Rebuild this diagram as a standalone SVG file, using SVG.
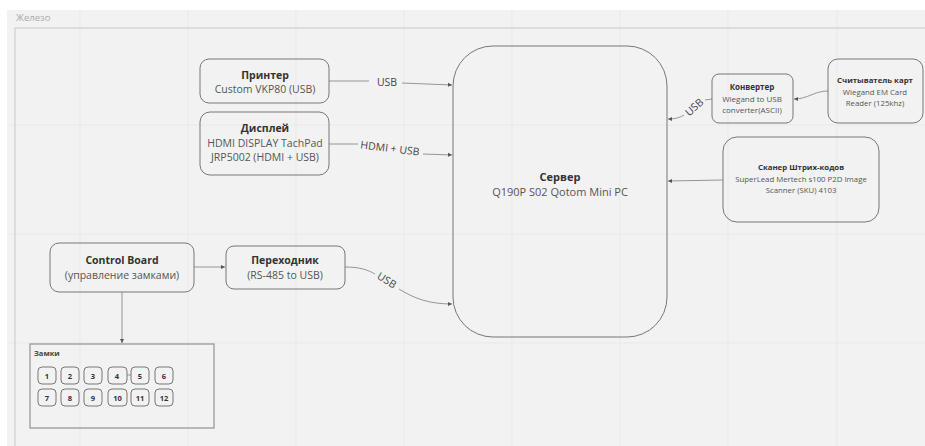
<svg xmlns="http://www.w3.org/2000/svg" width="925" height="446" viewBox="0 0 925 446">
<defs>
<marker id="arr" markerUnits="userSpaceOnUse" markerWidth="5" markerHeight="5" refX="4" refY="2.5" orient="auto">
<path d="M0,0.5 L4,2.5 L0,4.5 z" fill="#555"/>
</marker>
<style>
.node{fill:none;stroke:#777;stroke-width:1}
.t{font-family:"Open Sans","Liberation Sans",sans-serif;font-weight:700;fill:#333;text-anchor:middle}
.s{font-family:"Open Sans","Liberation Sans",sans-serif;fill:#555;text-anchor:middle}
.c{fill:none;stroke:#8a8a8a;stroke-width:0.9}
.lbl{font-family:"Open Sans","Liberation Sans",sans-serif;fill:#444;font-size:10.5px;text-anchor:middle}
.lock{fill:none;stroke:#777;stroke-width:1}
.ln{font-family:"Open Sans","Liberation Sans",sans-serif;font-weight:700;fill:#333;font-size:7.5px;text-anchor:middle}
.grid{stroke:#e9e9e9;stroke-width:1}
</style>
</defs>
<rect x="0" y="0" width="925" height="446" fill="#ffffff"/>
<rect x="7" y="10" width="918" height="436" fill="#f2f2f2"/>
<g id="grid">
<line class="grid" x1="80" y1="10" x2="80" y2="446"/>
<line class="grid" x1="188" y1="10" x2="188" y2="446"/>
<line class="grid" x1="296" y1="10" x2="296" y2="446"/>
<line class="grid" x1="404" y1="10" x2="404" y2="446"/>
<line class="grid" x1="512" y1="10" x2="512" y2="446"/>
<line class="grid" x1="620" y1="10" x2="620" y2="446"/>
<line class="grid" x1="728" y1="10" x2="728" y2="446"/>
<line class="grid" x1="837" y1="10" x2="837" y2="446"/>
<line class="grid" x1="7" y1="125" x2="925" y2="125"/>
<line class="grid" x1="7" y1="234" x2="925" y2="234"/>
<line class="grid" x1="7" y1="343" x2="925" y2="343"/>
</g>
<g id="frame">
<rect x="15" y="28" width="930" height="440" fill="none" stroke="#d6d6d6" stroke-width="1.5"/>
<text x="16" y="21" font-family="'Open Sans','Liberation Sans',sans-serif" font-size="9.5" fill="#aaa">Железо</text>
</g>
<g id="connectors">
<path class="c" d="M329,81 L369,81"/>
<path class="c" d="M402,83 L452,85" marker-end="url(#arr)"/>
<text class="lbl" x="387" y="86">USB</text>
<path class="c" d="M329,144 L358,144"/>
<path class="c" d="M423,154 L452,155" marker-end="url(#arr)"/>
<text class="lbl" x="390" y="152" transform="rotate(7 390 148)">HDMI + USB</text>
<path class="c" d="M828,91 C814,91 808,99 794,99" marker-end="url(#arr)"/>
<path class="c" d="M712,99 L705,100"/>
<path class="c" d="M684,115 C679,118 675,119 668,119" marker-end="url(#arr)"/>
<text class="lbl" x="694" y="111" transform="rotate(-42 694 107)">USB</text>
<path class="c" d="M723,180 L668,181" marker-end="url(#arr)"/>
<path class="c" d="M194,267 L225,267" marker-end="url(#arr)"/>
<path class="c" d="M122,292 L122,343" marker-end="url(#arr)"/>
<path class="c" d="M345,267 C360,267 368,270 375,274"/>
<path class="c" d="M399,289 C415,299 430,304 452,304" marker-end="url(#arr)"/>
<text class="lbl" x="387" y="284" transform="rotate(32 387 280)">USB</text>
<path class="c" d="M127,375 L131,375"/>
</g>
<g id="printer">
<rect class="node" x="200" y="59" width="129" height="44" rx="9"/>
<text class="t" x="265" y="79" font-size="10.5">Принтер</text>
<text class="s" x="265" y="93" font-size="10.5">Custom VKP80 (USB)</text>
</g>
<g id="display">
<rect class="node" x="200" y="112" width="129" height="63" rx="10"/>
<text class="t" x="265" y="132" font-size="10.5">Дисплей</text>
<text class="s" x="265" y="147" font-size="10.5">HDMI DISPLAY TachPad</text>
<text class="s" x="265" y="161" font-size="10.5">JRP5002 (HDMI + USB)</text>
</g>
<g id="server">
<rect class="node" x="453" y="46" width="214" height="291" rx="40" stroke="#666"/>
<text class="t" x="560" y="181" font-size="11">Сервер</text>
<text class="s" x="560" y="196" font-size="11">Q190P S02 Qotom Mini PC</text>
</g>
<g id="converter">
<rect class="node" x="712" y="74" width="81" height="49" rx="7"/>
<text class="t" x="752" y="90" font-size="8">Конвертер</text>
<text class="s" x="752" y="101.5" font-size="8">Wiegand to USB</text>
<text class="s" x="752" y="113" font-size="8">converter(ASCII)</text>
</g>
<g id="cardreader">
<rect class="node" x="828" y="59" width="95" height="64" rx="10"/>
<text class="t" x="875" y="83" font-size="7.8">Считыватель карт</text>
<text class="s" x="875" y="95" font-size="7.8">Wiegand EM Card</text>
<text class="s" x="875" y="106" font-size="7.8">Reader (125khz)</text>
</g>
<g id="scanner">
<rect class="node" x="723" y="137" width="156" height="85" rx="14"/>
<text class="t" x="801" y="170" font-size="7.8">Сканер Штрих-кодов</text>
<text class="s" x="801" y="182" font-size="7.8">SuperLead Mertech s100 P2D Image</text>
<text class="s" x="801" y="193" font-size="7.8">Scanner (SKU) 4103</text>
</g>
<g id="controlboard">
<rect class="node" x="50" y="243" width="144" height="49" rx="9"/>
<text class="t" x="122" y="264" font-size="10.5">Control Board</text>
<text class="s" x="122" y="279" font-size="10.5">(управление замками)</text>
</g>
<g id="adapter">
<rect class="node" x="226" y="246" width="119" height="43" rx="8"/>
<text class="t" x="285" y="264" font-size="10.5">Переходник</text>
<text class="s" x="285" y="279" font-size="10.5">(RS-485 to USB)</text>
</g>
<g id="locks">
<rect x="30" y="344" width="184" height="84" fill="none" stroke="#999" stroke-width="1.3"/>
<text x="34" y="356" font-family="'Open Sans','Liberation Sans',sans-serif" font-size="7.5" font-weight="700" fill="#444">Замки</text>
<g id="lock1"><rect class="lock" x="38" y="367" width="18" height="17" rx="4"/><text class="ln" x="47" y="378.5">1</text></g>
<g id="lock2"><rect class="lock" x="61" y="367" width="18" height="17" rx="4"/><text class="ln" x="70" y="378.5">2</text></g>
<g id="lock3"><rect class="lock" x="84" y="367" width="18" height="17" rx="4"/><text class="ln" x="93" y="378.5">3</text></g>
<g id="lock4"><rect class="lock" x="108" y="367" width="19" height="17" rx="4"/><text class="ln" x="117" y="378.5">4</text></g>
<g id="lock5"><rect class="lock" x="131" y="367" width="18" height="17" rx="4"/><text class="ln" x="140" y="378.5">5</text></g>
<g id="lock6"><rect class="lock" x="155" y="367" width="18" height="17" rx="4"/><text class="ln" x="164" y="378.5">6</text></g>
<g id="lock7"><rect class="lock" x="38" y="389" width="18" height="17" rx="4"/><text class="ln" x="47" y="400.5">7</text></g>
<g id="lock8"><rect class="lock" x="61" y="389" width="18" height="17" rx="4"/><text class="ln" x="70" y="400.5">8</text></g>
<g id="lock9"><rect class="lock" x="84" y="389" width="18" height="17" rx="4"/><text class="ln" x="93" y="400.5">9</text></g>
<g id="lock10"><rect class="lock" x="108" y="389" width="19" height="17" rx="4"/><text class="ln" x="117.5" y="400.5">10</text></g>
<g id="lock11"><rect class="lock" x="131" y="389" width="18" height="17" rx="4"/><text class="ln" x="140" y="400.5">11</text></g>
<g id="lock12"><rect class="lock" x="155" y="389" width="18" height="17" rx="4"/><text class="ln" x="164" y="400.5">12</text></g>
</g>
</svg>
